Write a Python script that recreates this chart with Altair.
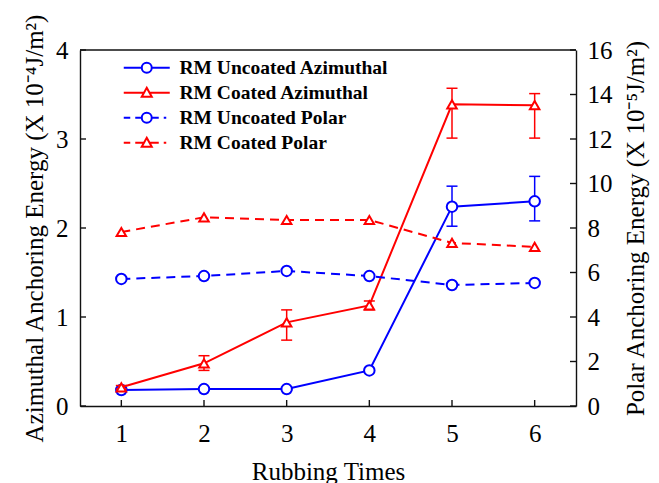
import altair as alt
import pandas as pd

# ---------------- data ----------------
rubbing = [1, 2, 3, 4, 5, 6]
unc_az = [0.18, 0.19, 0.19, 0.40, 2.24, 2.30]
unc_az_lo = [0.17, 0.18, 0.18, 0.39, 2.02, 2.08]
unc_az_hi = [0.19, 0.20, 0.20, 0.41, 2.47, 2.58]
coat_az = [0.21, 0.48, 0.94, 1.13, 3.39, 3.38]
coat_az_lo = [0.19, 0.40, 0.74, 1.08, 3.01, 3.01]
coat_az_hi = [0.23, 0.565, 1.08, 1.18, 3.57, 3.51]
unc_pol = [5.71, 5.84, 6.07, 5.84, 5.44, 5.53]
coat_pol = [7.82, 8.48, 8.36, 8.36, 7.33, 7.15]

series_names = ["RM Uncoated Azimuthal", "RM Coated Azimuthal",
                "RM Uncoated Polar", "RM Coated Polar"]
series_colors = ["#0000ff", "#ff0000", "#0000ff", "#ff0000"]
x_ticks = [1, 2, 3, 4, 5, 6]
left_ticks = [0, 1, 2, 3, 4]
right_ticks = [0, 2, 4, 6, 8, 10, 12, 14, 16]

# ---------------- style ----------------
FONT = "Liberation Serif"
FS = 25
W, H = 496, 356
BLUE, RED = "#0000ff", "#ff0000"
FRAME = "#111111"
FW = 1.4
DASH = [9, 6]

# legend symbols: line + marker glyphs
circ = "M-1,0 A1,1 0 1,0 1,0 A1,1 0 1,0 -1,0"
tri = "M0,-1 L1,0.8 L-1,0.8 Z"
legend_paths = [
    "M-4.6,0 L-1,0 M1,0 L4.6,0 " + circ,
    "M-4.6,0 L-0.56,0 M0.56,0 L4.6,0 " + tri,
    "M-4.6,0 L-3.3,0 M-2.3,0 L-1,0 M1,0 L2.4,0 M3.4,0 L3.9,0 " + circ,
    "M-4.6,0 L-3.3,0 M-2.3,0 L-0.56,0 M0.56,0 L2.4,0 M3.4,0 L3.9,0 " + tri,
]

common = dict(ticks=False, domain=True, domainColor=FRAME, domainWidth=FW,
              grid=False, labelFontSize=FS,
              titleFontSize=FS, labelFont=FONT, titleFont=FONT,
              titleFontWeight="normal", labelColor="black", titleColor="black")

xscale = alt.Scale(domain=[0.5, 6.5], nice=False, zero=False)
xaxis = alt.Axis(values=x_ticks, title="Rubbing Times", labelPadding=15,
                 titlePadding=13, **common)

lscale = alt.Scale(domain=[0, 4], nice=False)
laxis = alt.Axis(values=left_ticks, orient="left", format="d",
                 title="Azimuthal Anchoring Energy (X 10⁻⁴J/m²)",
                 labelPadding=12, titlePadding=8, **common)
rscale = alt.Scale(domain=[0, 16], nice=False)
raxis = alt.Axis(values=right_ticks, orient="right", format="d",
                 title="Polar Anchoring Energy (X 10⁻⁵J/m²)", titleAngle=270,
                 titleBaseline="top", labelPadding=11, titlePadding=11, **common)


def X(f):
    return alt.X(f"{f}:Q", scale=xscale, axis=xaxis)


def YL(f):
    return alt.Y(f"{f}:Q", scale=lscale, axis=laxis)


def YR(f):
    return alt.Y(f"{f}:Q", scale=rscale, axis=raxis)


def series(values, color, shape, size, Y, dash=None, lo=None, hi=None):
    df = pd.DataFrame({"x": rubbing, "y": values})
    lkw = dict(color=color, strokeWidth=2)
    if dash:
        lkw["strokeDash"] = dash
    layers = [alt.Chart(df).mark_line(**lkw).encode(x=X("x"), y=Y("y"))]
    if lo is not None:
        edf = pd.DataFrame({"x": rubbing, "lo": lo, "hi": hi})
        layers.append(alt.Chart(edf).mark_rule(color=color, strokeWidth=1.5)
                      .encode(x=X("x"), y=Y("lo"), y2=alt.Y2("hi")))
        for c in ["lo", "hi"]:
            layers.append(alt.Chart(edf).mark_tick(color=color, orient="horizontal",
                                                   size=11, thickness=1.5, opacity=1)
                          .encode(x=X("x"), y=Y(c)))
    layers.append(alt.Chart(df).mark_point(shape=shape, size=size, filled=True,
                                           fill="white", stroke=color,
                                           strokeWidth=2, opacity=1)
                  .encode(x=X("x"), y=Y("y")))
    return layers


# inward tick marks and top frame line
lt = alt.Chart(pd.DataFrame({"v": left_ticks})).mark_rule(color=FRAME, strokeWidth=FW).encode(
    y=YL("v"), x=alt.value(0), x2=alt.value(6))
top = alt.Chart(pd.DataFrame({"v": [left_ticks[-1]]})).mark_rule(color=FRAME, strokeWidth=FW).encode(
    y=YL("v"), x=alt.value(0), x2=alt.value(W))
bt = alt.Chart(pd.DataFrame({"v": x_ticks})).mark_rule(color=FRAME, strokeWidth=FW).encode(
    x=X("v"), y=alt.value(H), y2=alt.value(H - 6))
rt = alt.Chart(pd.DataFrame({"v": right_ticks})).mark_rule(color=FRAME, strokeWidth=FW).encode(
    y=YR("v"), x=alt.value(W - 6), x2=alt.value(W))

# legend (scale-driven, no visible data marks)
leg_df = pd.DataFrame({"series": series_names, "x": rubbing[:4], "y": [0, 0, 0, 0]})
leg = alt.Legend(orient="none", legendX=57, legendY=8, title=None, labelFont=FONT,
                 labelFontWeight="bold", labelFontSize=19.5, labelColor="black",
                 labelLimit=400, symbolSize=100, symbolStrokeWidth=2, labelOffset=23,
                 rowPadding=4, padding=0, symbolOpacity=1)
legend_layer = alt.Chart(leg_df).transform_filter("datum.x < 0").mark_point(
    filled=False, opacity=1).encode(
    x=X("x"), y=YL("y"),
    color=alt.Color("series:N", scale=alt.Scale(domain=series_names, range=series_colors),
                    legend=leg, sort=series_names),
    shape=alt.Shape("series:N", scale=alt.Scale(domain=series_names, range=legend_paths),
                    legend=leg, sort=series_names),
)

left = alt.layer(
    lt, top, bt,
    *series(unc_az, BLUE, "circle", 110, YL, lo=unc_az_lo, hi=unc_az_hi),
    *series(coat_az, RED, "triangle-up", 90, YL, lo=coat_az_lo, hi=coat_az_hi),
    legend_layer,
)
right = alt.layer(
    rt,
    *series(unc_pol, BLUE, "circle", 110, YR, dash=DASH),
    *series(coat_pol, RED, "triangle-up", 90, YR, dash=DASH),
)

chart = alt.layer(left, right).resolve_scale(y="independent").properties(
    width=W, height=H,
    background="white",
    autosize=alt.AutoSizeParams(type="none"),
    padding={"left": 80, "top": 50, "right": 83, "bottom": 77},
).configure_view(strokeWidth=0)

chart.save("out.html", embed_options={"renderer": "svg", "actions": False})
